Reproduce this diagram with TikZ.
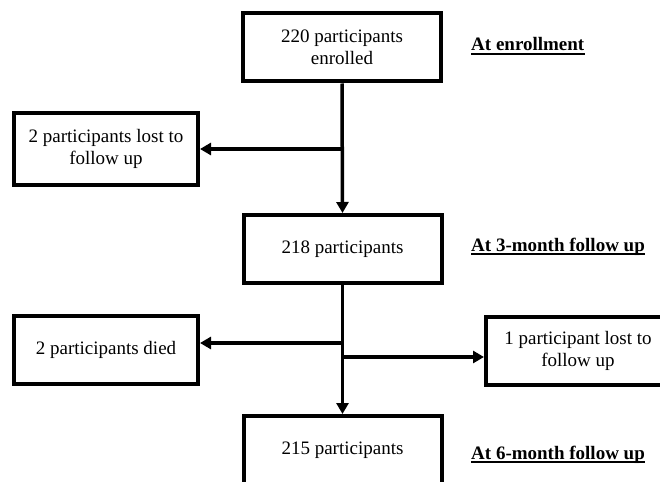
\documentclass[tikz,border=0pt]{standalone}
\usepackage{fontspec}
\setmainfont{Liberation Serif}
\usetikzlibrary{arrows.meta}
\begin{document}
\begin{tikzpicture}[x=1pt,y=-1pt,
  boxc/.style={draw, line width=4pt, rectangle, minimum width=198pt, minimum height=68pt, align=center, inner sep=0pt,
    font=\fontsize{19pt}{22pt}\selectfont},
  boxs/.style={boxc, minimum width=184pt},
  conn/.style={line width=3.5pt, -{Triangle[length=11pt,width=12pt]}},
  stagelabel/.style={anchor=base west, inner sep=0pt, font=\fontsize{19pt}{22pt}\selectfont\bfseries},
  uline/.style={line width=1.6pt}]
\useasboundingbox (0,0) rectangle (660,481);
\node[boxc] (b1) at (342,47.5) {220 participants\\enrolled};
\node[boxs, minimum height=71pt] (lost1) at (106,149) {2 participants lost to\\follow up};
\node[boxc] (b2) at (342.5,249) {218 participants};
\node[boxs] (died) at (106,350) {2 participants died};
\node[boxs] (lost2) at (578,351) {1 participant lost to\\follow up};
\node[boxc] (b3) at (342.5,450) {215 participants};
\node[stagelabel] (l1) at (471,51) {At enrollment};
\node[stagelabel] (l2) at (471,251) {At 3-month follow up};
\node[stagelabel] (l3) at (471,459) {At 6-month follow up};
\foreach \l in {l1,l2,l3}
  \draw[uline] ([yshift=-3pt]\l.base west) -- ([yshift=-3pt]\l.base east);
\coordinate (j1) at (b1.south |- lost1.east);
\coordinate (j2) at (342.5,343);
\coordinate (j3) at (342.5,357);
\draw[conn] (b1.south) -- (b2.north);
\draw[conn] (j1) -- (lost1.east);
\draw[conn] (b2.south) -- (b3.north);
\draw[conn] (j2) -- (j2 -| died.east);
\draw[conn] (j3) -- (j3 -| lost2.west);
\end{tikzpicture}
\end{document}
